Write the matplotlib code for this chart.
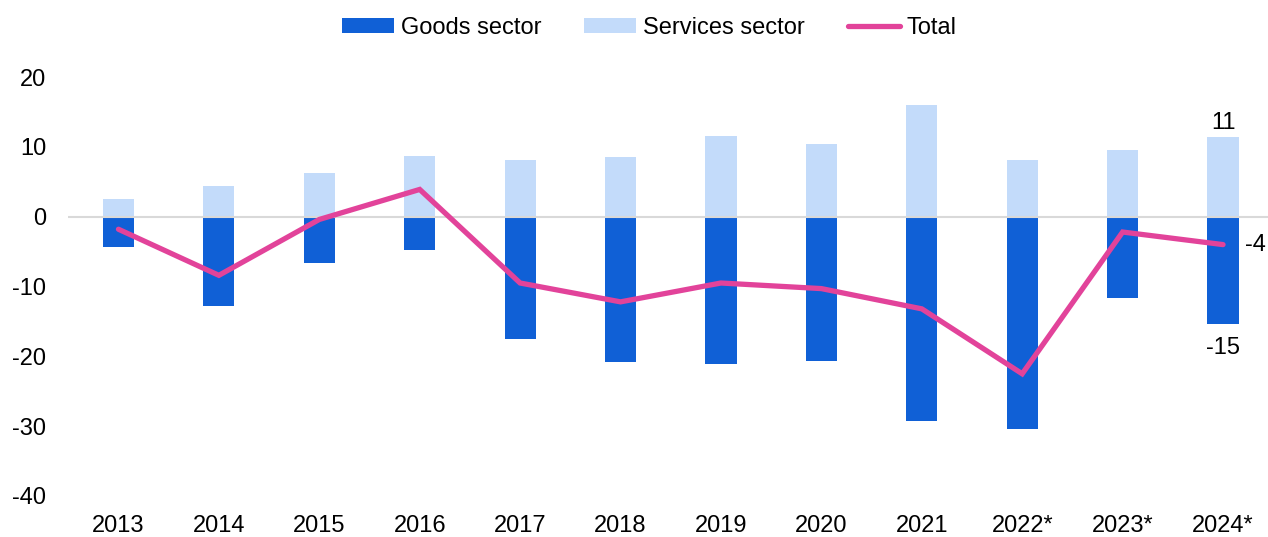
import matplotlib
matplotlib.use("Agg")
import matplotlib.pyplot as plt
import numpy as np

plt.rcParams['font.family'] = ['Liberation Sans', 'DejaVu Sans']

years = ["2013", "2014", "2015", "2016", "2017", "2018",
         "2019", "2020", "2021", "2022*", "2023*", "2024*"]
goods = [-4.4, -12.8, -6.7, -4.8, -17.5, -20.8,
         -21.1, -20.7, -29.3, -30.4, -11.7, -15.4]
services = [2.6, 4.4, 6.3, 8.7, 8.1, 8.5,
            11.6, 10.4, 16.0, 8.1, 9.6, 11.4]
total = [-1.8, -8.4, -0.4, 3.9, -9.5, -12.2,
         -9.5, -10.3, -13.2, -22.5, -2.2, -4.0]
yticks = [-40, -30, -20, -10, 0, 10, 20]

C_GOODS = "#1060D6"
C_SERV = "#C3DBFA"
C_TOTAL = "#E2439A"

fig = plt.figure(figsize=(12.68, 5.37), dpi=100)
ax = fig.add_axes([68.25 / 1268, 1 - 496 / 537, 1205 / 1268, (496 - 77) / 537])

x = np.arange(len(years))
w = 0.31
b_goods = ax.bar(x, goods, width=w, color=C_GOODS, label="Goods sector", zorder=2)
b_serv = ax.bar(x, services, width=w, color=C_SERV, label="Services sector", zorder=2)
ax.axhline(0, color="#D9D9D9", lw=1.5, zorder=3)
l_total, = ax.plot(x, total, color=C_TOTAL, lw=3.8, solid_capstyle="round",
                   solid_joinstyle="miter", label="Total", zorder=4)

# value labels on the last year
fs = 17
i = len(years) - 1
ax.annotate(f"{services[i]:.0f}", (x[i], services[i]), xytext=(0, 2),
            textcoords="offset points", ha="center", va="bottom", fontsize=fs)
ax.annotate(f"{goods[i]:.0f}", (x[i], goods[i]), xytext=(0, -9),
            textcoords="offset points", ha="center", va="top", fontsize=fs)
ax.annotate(f"{total[i]:.0f}", (x[i], total[i]), xytext=(16, 0),
            textcoords="offset points", ha="left", va="center", fontsize=fs)

ax.set_xlim(-0.5, len(years) - 0.5)
ax.set_ylim(-40, 20)
ax.set_yticks(yticks)
ax.set_yticklabels([str(v) for v in yticks])
ax.set_xticks(x)
ax.set_xticklabels(years)
ax.tick_params(axis="both", length=0, labelsize=fs)
ax.tick_params(axis="y", pad=16)
ax.tick_params(axis="x", pad=14)
for s in ax.spines.values():
    s.set_visible(False)

fig.legend([b_goods, b_serv, l_total], ["Goods sector", "Services sector", "Total"],
           loc="center", bbox_to_anchor=(649.5 / 1268, 1 - 28 / 537),
           ncol=3, frameon=False, fontsize=fs, handlelength=2.2,
           handleheight=0.6, handletextpad=0.3, columnspacing=1.8,
           borderaxespad=0)

fig.savefig("out.png", dpi=100)
